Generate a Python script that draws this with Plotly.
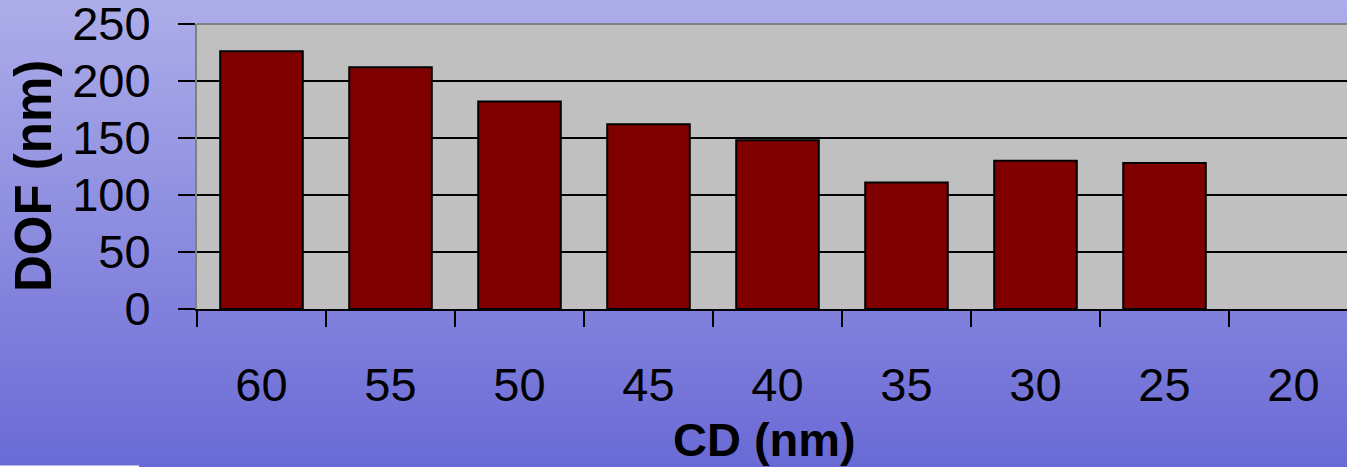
import base64
import plotly.graph_objects as go

# Depth of focus versus critical dimension
cd_labels = ["60", "55", "50", "45", "40", "35", "30", "25", "20"]
dof_nm = [226, 212, 182, 162, 148, 111, 130, 128, None]

W, H = 1347, 467
L, R, T, B = 197, 0, 24, 158
plot_w = W - L - R
plot_h = H - T - B
cat_px = 129  # width of one category slot in pixels
x_max = -0.5 + plot_w / cat_px


def px_x(px):
    """Pixel column -> paper x."""
    return (px - L) / plot_w


def px_y(py):
    """Pixel row (from top) -> paper y."""
    return (T + plot_h - py) / plot_h


# Vertical lavender-to-blue backdrop as an SVG gradient
svg = (
    '<svg xmlns="http://www.w3.org/2000/svg" width="100" height="100" preserveAspectRatio="none">'
    '<defs><linearGradient id="g" x1="0" y1="0" x2="0" y2="1">'
    '<stop offset="0" stop-color="#ADADE9"/>'
    '<stop offset="1" stop-color="#6A6AD6"/>'
    '</linearGradient></defs>'
    '<rect width="100" height="100" fill="url(#g)"/></svg>'
)
bg_uri = "data:image/svg+xml;base64," + base64.b64encode(svg.encode()).decode()

font_family = "Liberation Sans, Arial, sans-serif"

fig = go.Figure(
    go.Bar(
        x=cd_labels,
        y=dof_nm,
        marker=dict(color="#800000", line=dict(color="#000000", width=2)),
        hoverinfo="x+y",
    )
)

fig.update_layout(
    width=W,
    height=H,
    margin=dict(l=L, r=R, t=T, b=B, pad=0, autoexpand=False),
    paper_bgcolor="#8B8BDF",
    plot_bgcolor="rgba(0,0,0,0)",
    bargap=0.36,
    showlegend=False,
    font=dict(family=font_family, color="#000000"),
    images=[
        dict(
            source=bg_uri,
            xref="paper", yref="paper",
            x=px_x(0), y=px_y(0),
            sizex=W / plot_w, sizey=H / plot_h,
            xanchor="left", yanchor="top",
            sizing="stretch", layer="below",
        )
    ],
    shapes=[
        # grey plot area
        dict(type="rect", xref="paper", yref="paper", x0=0, x1=1, y0=0, y1=1,
             fillcolor="#C0C0C0", line=dict(width=0), layer="below"),
        # top border
        dict(type="line", xref="paper", yref="paper", x0=0, x1=1, y0=1, y1=1,
             line=dict(color="#808080", width=2), layer="below"),
        # sliver of the slide footer in the lower-left corner
        dict(type="rect", xref="paper", yref="paper",
             x0=px_x(0), x1=px_x(139), y0=px_y(467), y1=px_y(465.5),
             fillcolor="#FFFFFF", line=dict(width=0), layer="above"),
    ],
    annotations=[
        dict(text="<b>CD (nm)</b>", xref="paper", yref="paper",
             x=px_x(764), y=px_y(439),
             xanchor="center", yanchor="middle", showarrow=False,
             font=dict(size=47, family=font_family, color="#000000")),
        dict(text="<b>DOF (nm)</b>", xref="paper", yref="paper",
             x=px_x(33), y=px_y(176),
             xanchor="center", yanchor="middle", textangle=-90, showarrow=False,
             font=dict(size=51, family=font_family, color="#000000")),
    ],
)

fig.update_xaxes(
    type="category",
    range=[-0.5, x_max],
    automargin=False,
    tickson="boundaries",
    ticks="outside",
    ticklen=16,
    tickwidth=1.5,
    tickcolor="#000000",
    showgrid=False,
    showline=True,
    linecolor="#000000",
    linewidth=2,
    zeroline=False,
    tickfont=dict(size=47, family=font_family, color="#000000"),
    ticklabelstandoff=34,
    ticklabeloverflow="allow",
)

fig.update_yaxes(
    range=[0, 250],
    automargin=False,
    tickvals=[0, 50, 100, 150, 200, 250],
    ticks="outside",
    ticklen=17,
    tickwidth=1.5,
    tickcolor="#000000",
    showgrid=True,
    gridcolor="#000000",
    gridwidth=1.5,
    showline=True,
    linecolor="#808080",
    linewidth=2,
    zeroline=False,
    tickfont=dict(size=47, family=font_family, color="#000000"),
    ticklabelstandoff=18,
    ticklabeloverflow="allow",
)

fig.write_html("out.html")
